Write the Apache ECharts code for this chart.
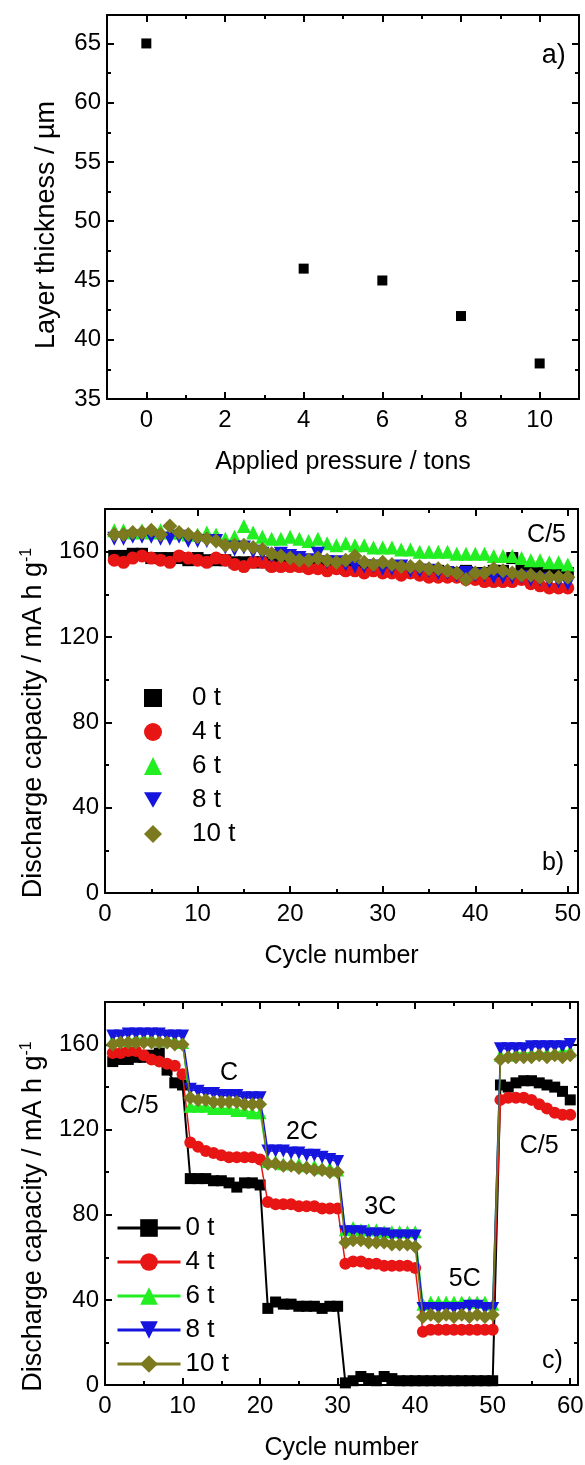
<!DOCTYPE html>
<html><head><meta charset="utf-8">
<script src="https://cdn.jsdelivr.net/npm/echarts@6/dist/echarts.min.js"></script>
<style>html,body{margin:0;padding:0;background:#fff}#c{width:585px;height:1465px}</style>
</head><body><div id="c"></div>
<script>
const FONT = '"Liberation Sans", Arial, Helvetica, sans-serif';

// ---------- Panel a ----------
const pressureTons = [0, 4, 6, 8, 10];
const layerThickness = [65, 46, 45, 42, 38];
const aXMajor = [0, 2, 4, 6, 8, 10];
const aXMinor = [1, 3, 5, 7, 9];
const aYMajor = [35, 40, 45, 50, 55, 60, 65];
const aYMinor = [37.5, 42.5, 47.5, 52.5, 57.5, 62.5];

// ---------- Panel b (C/5 cycling) ----------
const cyclesB = [1,2,3,4,5,6,7,8,9,10,11,12,13,14,15,16,17,18,19,20,21,22,23,24,25,26,27,28,29,30,31,32,33,34,35,36,37,38,39,40,41,42,43,44,45,46,47,48,49,50];
const b_0t = [158,158,159,159,157,157,157,157,156,157, 156,156,156,155,155,155,155,154,154,154, 154,153,153,153,153,152,152,152,152,152, 151,151,151,151,151,151,150,150,151,150, 150,151,151,157,151,150,150,150,150,150];
const b_4t = [156,155,157,158,157,156,155,158,157,156, 155,157,156,154,153,155,155,153,153,153, 153,152,152,151,152,151,151,150,151,150, 150,149,150,149,148,148,148,148,147,147, 146,146,146,146,147,145,144,143,143,143];
const b_6t = [170,170,169,170,169,170,169,169,168,168, 169,168,166,167,172,169,167,166,166,167, 166,165,166,164,163,164,163,163,162,162, 162,161,161,160,160,160,160,159,159,159, 159,158,158,158,157,156,156,155,155,154];
const b_8t = [166,166,167,167,167,166,166,167,165,165, 165,165,162,161,162,160,159,158,159,158, 157,156,159,155,155,154,153,153,153,152, 152,153,151,151,151,150,150,149,150,149, 149,148,148,148,148,147,147,146,146,145];
const b_10t = [168,168,169,169,170,168,172,169,168,167, 166,165,163,163,163,162,161,159,158,157, 156,156,157,156,155,156,158,155,154,155, 154,153,153,153,152,152,151,150,147,150, 150,152,151,150,149,149,148,148,148,148];
const bXMajor = [0, 10, 20, 30, 40, 50];
const bXMinor = [5, 15, 25, 35, 45];
const capMajor = [0, 40, 80, 120, 160];
const capMinor = [20, 60, 100, 140];

// ---------- Panel c (rate capability) ----------
const cyclesC = [1,2,3,4,5,6,7,8,9,10,11,12,13,14,15,16,17,18,19,20,21,22,23,24,25,26,27,28,29,30,31,32,33,34,35,36,37,38,39,40,41,42,43,44,45,46,47,48,49,50,51,52,53,54,55,56,57,58,59,60];
const c_0t = [152,153,153,154,154,155,156,148,142,141, 97,97,97,96,96,95,93,95,95,94, 36,39,38,38,37,37,37,36,37,37, 1,2,4,3,2,4,3,2,2,2, 2,2,2,2,2,2,2,2,2,2, 141,140,142,143,143,142,141,140,138,134];
const c_4t = [156,156,157,157,155,153,152,151,150,146, 114,112,110,109,108,107,107,107,107,106, 86,85,85,85,84,84,84,83,83,83, 57,58,58,57,57,56,56,56,56,55, 25,26,26,26,26,26,26,26,26,26, 134,135,135,135,134,132,130,128,127,127];
const c_6t = [162,162,162,163,163,163,162,162,162,161, 131,131,131,130,130,130,129,129,128,128, 105,105,104,104,104,103,103,102,102,101, 73,74,73,73,73,72,72,72,72,72, 38,39,39,39,39,39,39,39,39,38, 155,155,156,156,156,156,156,156,157,157];
const c_8t = [164,164,165,165,165,165,165,164,164,164, 139,138,137,137,136,136,136,135,135,135, 110,110,110,109,109,108,108,107,106,105, 72,72,72,71,71,71,70,70,70,70, 36,36,36,36,36,36,37,37,36,36, 158,158,158,158,159,159,159,159,159,160];
const c_10t = [160,161,161,161,161,161,161,161,160,160, 135,134,134,133,133,133,133,132,132,132, 104,104,103,103,102,102,101,101,100,100, 67,68,68,67,67,67,66,66,66,65, 32,33,32,33,32,33,32,33,32,33, 153,154,154,154,154,155,154,155,154,155];
const cXMajor = [0, 10, 20, 30, 40, 50, 60];
const cXMinor = [5, 15, 25, 35, 45, 55];

// ---------- Labels ----------
const seriesLabels = ['0 t', '4 t', '6 t', '8 t', '10 t'];
const rateLabels = ['C/5', 'C', '2C', '3C', '5C', 'C/5'];
const rateLabelX = [4.4, 16.0, 25.4, 35.5, 46.4, 56.0];
const rateLabelY = [131, 146.5, 118.8, 83.7, 49.6, 112.2];
const panelLabels = ['a)', 'b)', 'c)'];

// ---------- Styling ----------
const colors = ['#000000', '#e81515', '#22ee22', '#1515dd', '#7b7a1f'];
const symbols = ['rect', 'circle', 'triangle', 'path://M0,0L2,0L1,1.73Z', 'diamond'];
const symSizesB = [12, 13, 14, 14, 15];
const symSizesC = [11, 12, 13, 13, 14];

function zip(xs, ys) { return xs.map((x, i) => [x, ys[i]]); }

function xAxes(grid, min, max, majors, minors, name, nameGap) {
  const base = { gridIndex: grid, type: 'value', min: min, max: max, splitLine: { show: false } };
  const line = { show: true, onZero: false, lineStyle: { color: '#000', width: 2 } };
  const noLine = { show: false, onZero: false };
  const tick = (vals, len) => ({ show: true, inside: true, length: len, lineStyle: { color: '#000', width: 2 }, customValues: vals });
  return [
    Object.assign({}, base, { position: 'bottom', name: name, nameLocation: 'middle', nameGap: nameGap,
      nameTextStyle: { fontSize: 25, color: '#000', fontFamily: FONT },
      axisLine: line, axisTick: tick(majors, 7),
      axisLabel: { show: true, customValues: majors, fontSize: 24, color: '#000', fontFamily: FONT, margin: 9 } }),
    Object.assign({}, base, { position: 'bottom', axisLine: noLine, axisTick: tick(minors, 4), axisLabel: { show: false } }),
    Object.assign({}, base, { position: 'top', axisLine: line, axisTick: tick(majors, 7), axisLabel: { show: false } }),
    Object.assign({}, base, { position: 'top', axisLine: noLine, axisTick: tick(minors, 4), axisLabel: { show: false } })
  ];
}
function yAxes(grid, min, max, majors, minors, name, nameGap, nameTextStyle) {
  const base = { gridIndex: grid, type: 'value', min: min, max: max, splitLine: { show: false } };
  const line = { show: true, onZero: false, lineStyle: { color: '#000', width: 2 } };
  const noLine = { show: false, onZero: false };
  const tick = (vals, len) => ({ show: true, inside: true, length: len, lineStyle: { color: '#000', width: 2 }, customValues: vals });
  return [
    Object.assign({}, base, { position: 'left', name: name, nameLocation: 'middle', nameGap: nameGap, nameRotate: 90,
      nameTextStyle: nameTextStyle,
      axisLine: line, axisTick: tick(majors, 7),
      axisLabel: { show: true, customValues: majors, fontSize: 24, color: '#000', fontFamily: FONT, margin: 6 } }),
    Object.assign({}, base, { position: 'left', axisLine: noLine, axisTick: tick(minors, 4), axisLabel: { show: false } }),
    Object.assign({}, base, { position: 'right', axisLine: line, axisTick: tick(majors, 7), axisLabel: { show: false } }),
    Object.assign({}, base, { position: 'right', axisLine: noLine, axisTick: tick(minors, 4), axisLabel: { show: false } })
  ];
}

const capName = '{m|Discharge capacity / mA h g}{s|-1}';
function capStyle(shift) {
  return { padding: [0, shift, 0, 0], rich: {
    m: { fontSize: 27, fontFamily: FONT, color: '#000', lineHeight: 30 },
    s: { fontSize: 16, fontFamily: FONT, color: '#000', lineHeight: 30, verticalAlign: 'top' } } };
}

const xAxis = [].concat(
  xAxes(0, -1, 11, aXMajor, aXMinor, 'Applied pressure / tons', 51),
  xAxes(1, 0, 51.1, bXMajor, bXMinor, 'Cycle number', 51),
  xAxes(2, 0, 61, cXMajor, cXMinor, 'Cycle number', 51)
);
const yAxis = [].concat(
  yAxes(0, 35, 67.4, aYMajor, aYMinor, 'Layer thickness / µm', 47,
    { fontSize: 27, fontFamily: FONT, color: '#000', padding: [0, 36, 0, 0] }),
  yAxes(1, 0, 180, capMajor, capMinor, capName, 56, capStyle(44)),
  yAxes(2, 0, 180, capMajor, capMinor, capName, 56, capStyle(46))
);

const series = [];
// panel a
series.push({ type: 'scatter', xAxisIndex: 0, yAxisIndex: 0, symbol: 'rect', symbolSize: 10,
  itemStyle: { color: '#000', opacity: 1 }, data: zip(pressureTons, layerThickness), z: 3 });
// panel b
const bData = [b_0t, b_4t, b_6t, b_8t, b_10t];
bData.forEach((vals, i) => {
  series.push({ type: 'scatter', name: 'b' + i, xAxisIndex: 4, yAxisIndex: 4, symbol: symbols[i], symbolSize: symSizesB[i],
    itemStyle: { color: colors[i], opacity: 1 }, data: zip(cyclesB, vals), z: 3 + i });
});
// panel c
const cData = [c_0t, c_4t, c_6t, c_8t, c_10t];
cData.forEach((vals, i) => {
  series.push({ type: 'line', name: 'c' + i, xAxisIndex: 8, yAxisIndex: 8, symbol: symbols[i], symbolSize: symSizesC[i],
    showSymbol: true, showAllSymbol: true,
    itemStyle: { color: colors[i], opacity: 1 }, lineStyle: { color: colors[i], width: i === 0 ? 2 : 1.5 },
    data: zip(cyclesC, vals), z: 3 + i });
});
// annotations
const annLabel = { show: true, position: 'inside', color: '#000', opacity: 1, fontFamily: FONT, fontSize: 25,
  formatter: p => p.data[2] };
const annItem = { color: 'rgba(0,0,0,0)', opacity: 1 };
series.push({ type: 'scatter', xAxisIndex: 0, yAxisIndex: 0, symbolSize: 0.1, silent: true,
  itemStyle: annItem, label: Object.assign({}, annLabel, { fontSize: 27 }), data: [[10.36, 64.0, panelLabels[0]]], z: 20 });
series.push({ type: 'scatter', xAxisIndex: 4, yAxisIndex: 4, symbolSize: 0.1, silent: true,
  itemStyle: annItem, label: annLabel,
  data: [[48.4, 13.9, panelLabels[1]], [47.7, 167.8, rateLabels[0]]], z: 20 });
series.push({ type: 'scatter', xAxisIndex: 8, yAxisIndex: 8, symbolSize: 0.1, silent: true,
  itemStyle: annItem, label: annLabel,
  data: [[57.7, 11.3, panelLabels[2]]].concat(rateLabels.map((t, i) => [rateLabelX[i], rateLabelY[i], t])), z: 20 });

const legendFmt = n => seriesLabels[parseInt(n.slice(1), 10)];
const option = {
  animation: false,
  backgroundColor: '#fff',
  textStyle: { fontFamily: FONT },
  grid: [
    { left: 107, top: 15, width: 472, height: 384, outerBoundsMode: 'none' },
    { left: 105, top: 509, width: 473, height: 384, outerBoundsMode: 'none' },
    { left: 105, top: 1002, width: 473, height: 383, outerBoundsMode: 'none' }
  ],
  xAxis: xAxis,
  yAxis: yAxis,
  legend: [
    { orient: 'vertical', left: 144, top: 685, padding: 0, itemWidth: 18, itemHeight: 18, itemGap: 8,
      data: ['b0', 'b1', 'b2', 'b3', 'b4'], formatter: legendFmt, selectedMode: false,
      itemStyle: { opacity: 1 },
      textStyle: { fontSize: 26, fontFamily: FONT, color: '#000', lineHeight: 26, padding: [0, 0, 0, 25] } },
    { orient: 'vertical', left: 116, top: 1215, padding: 0, itemWidth: 63, itemHeight: 22, itemGap: 8,
      data: ['c0', 'c1', 'c2', 'c3', 'c4'], formatter: legendFmt, selectedMode: false,
      lineStyle: { width: 3 },
      textStyle: { fontSize: 26, fontFamily: FONT, color: '#000', lineHeight: 26 } }
  ],
  series: series
};
const chart = echarts.init(document.getElementById('c'), null, { renderer: 'canvas' });
chart.setOption(option);
</script></body></html>
